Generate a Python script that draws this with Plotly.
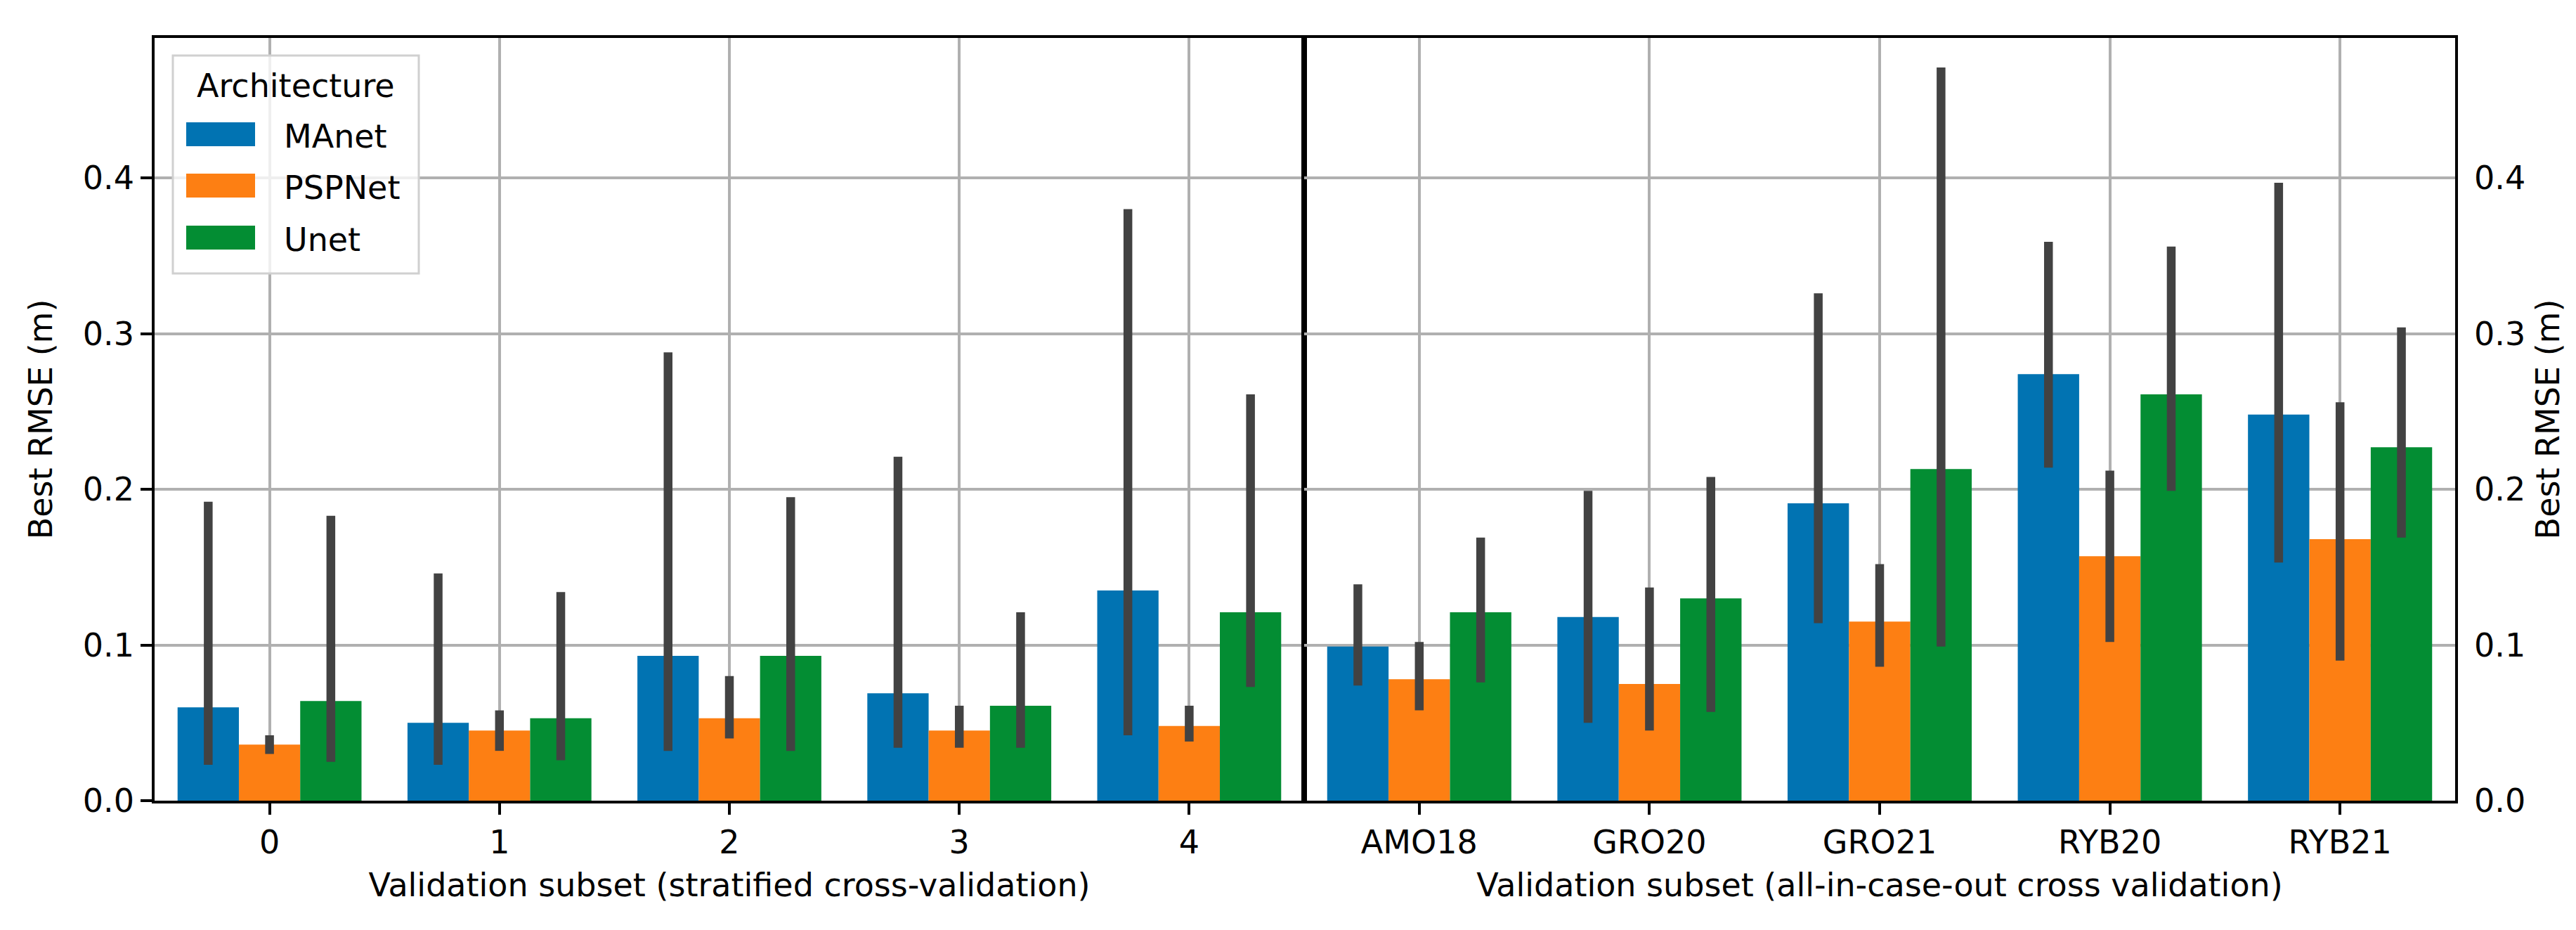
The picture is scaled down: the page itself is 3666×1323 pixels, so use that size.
import plotly.graph_objects as go

# ---------------- data ----------------
archs = ["MAnet", "PSPNet", "Unet"]
colors = ["#0173b2", "#fd7f13", "#038d33"]

strat_cats = ["0", "1", "2", "3", "4"]
case_cats = ["AMO18", "GRO20", "GRO21", "RYB20", "RYB21"]

# mean best RMSE (m)
strat_mean = {
    "MAnet":  [0.060, 0.050, 0.093, 0.069, 0.135],
    "PSPNet": [0.036, 0.045, 0.053, 0.045, 0.048],
    "Unet":   [0.064, 0.053, 0.093, 0.061, 0.121],
}
strat_lo = {
    "MAnet":  [0.023, 0.023, 0.032, 0.034, 0.042],
    "PSPNet": [0.030, 0.032, 0.040, 0.034, 0.038],
    "Unet":   [0.025, 0.026, 0.032, 0.034, 0.073],
}
strat_hi = {
    "MAnet":  [0.192, 0.146, 0.288, 0.221, 0.380],
    "PSPNet": [0.042, 0.058, 0.080, 0.061, 0.061],
    "Unet":   [0.183, 0.134, 0.195, 0.121, 0.261],
}

case_mean = {
    "MAnet":  [0.099, 0.118, 0.191, 0.274, 0.248],
    "PSPNet": [0.078, 0.075, 0.115, 0.157, 0.168],
    "Unet":   [0.121, 0.130, 0.213, 0.261, 0.227],
}
case_lo = {
    "MAnet":  [0.074, 0.050, 0.114, 0.214, 0.153],
    "PSPNet": [0.058, 0.045, 0.086, 0.102, 0.090],
    "Unet":   [0.076, 0.057, 0.099, 0.199, 0.169],
}
case_hi = {
    "MAnet":  [0.139, 0.199, 0.326, 0.359, 0.397],
    "PSPNet": [0.102, 0.137, 0.152, 0.212, 0.256],
    "Unet":   [0.169, 0.208, 0.471, 0.356, 0.304],
}

y_ticks = [0.0, 0.1, 0.2, 0.3, 0.4]
y_title = "Best RMSE (m)"
x_title_left = "Validation subset (stratified cross-validation)"
x_title_right = "Validation subset (all-in-case-out cross validation)"
legend_title = "Architecture"

# ---------------- layout geometry (px) ----------------
W, H = 3666, 1323
px = lambda x: x / W
py = lambda y: 1 - y / H
X0, XM, X1 = 212, 1848, 3486
Y0, Y1 = 46, 1131
FONT = "DejaVu Sans"
FS = 46
ERRC = "#424242"
GRIDC = "#b0b0b0"

fig = go.Figure()

for arch, col in zip(archs, colors):
    m = strat_mean[arch]
    fig.add_trace(go.Bar(
        x=strat_cats, y=m, name=arch, marker=dict(color=col, line=dict(width=0)),
        xaxis="x", yaxis="y", showlegend=False,
        error_y=dict(type="data", symmetric=False,
                     array=[h - v for h, v in zip(strat_hi[arch], m)],
                     arrayminus=[v - l for l, v in zip(strat_lo[arch], m)],
                     color=ERRC, thickness=12.5, width=0),
    ))
for arch, col in zip(archs, colors):
    m = case_mean[arch]
    fig.add_trace(go.Bar(
        x=case_cats, y=m, name=arch, marker=dict(color=col, line=dict(width=0)),
        xaxis="x2", yaxis="y2", showlegend=False,
        error_y=dict(type="data", symmetric=False,
                     array=[h - v for h, v in zip(case_hi[arch], m)],
                     arrayminus=[v - l for l, v in zip(case_lo[arch], m)],
                     color=ERRC, thickness=12.5, width=0),
    ))

common_x = dict(type="category", range=[-0.5, 4.5], showgrid=True, gridcolor=GRIDC,
                gridwidth=3.5, ticks="outside", ticklen=16, tickwidth=3.7,
                tickcolor="black", showline=True, linecolor="black", linewidth=3.7,
                mirror=True, tickfont=dict(family=FONT, size=FS, color="black"),
                title=dict(font=dict(family=FONT, size=FS, color="black"), standoff=20),
                zeroline=False, automargin=False)
common_y = dict(range=[0, 0.49], tickvals=y_ticks, tickformat=".1f", showgrid=True,
                gridcolor=GRIDC, gridwidth=3.5, showline=True, linecolor="black",
                linewidth=3.7, mirror=True, zeroline=False, automargin=False,
                tickfont=dict(family=FONT, size=FS, color="black"),
                domain=[py(Y1), py(Y0)])

fig.update_layout(
    width=W, height=H, margin=dict(l=0, r=0, t=0, b=0),
    paper_bgcolor="white", plot_bgcolor="white",
    barmode="group", bargap=0.2, bargroupgap=0,
    font=dict(family=FONT, size=FS, color="black"),
    xaxis=dict(common_x, domain=[px(X0), px(XM)], anchor="y",
               categoryorder="array", categoryarray=strat_cats,
               title=dict(common_x["title"], text=x_title_left)),
    xaxis2=dict(common_x, domain=[px(XM), px(X1)], anchor="y2",
                categoryorder="array", categoryarray=case_cats,
                title=dict(common_x["title"], text=x_title_right)),
    yaxis=dict(common_y, anchor="x", side="left", ticks="outside", ticklen=16,
               tickwidth=3.7, tickcolor="black",
               title=dict(text=y_title, font=dict(family=FONT, size=FS, color="black"),
                          standoff=30)),
    yaxis2=dict(common_y, anchor="x2", side="right", ticks="",
                ticklabelstandoff=14,
                title=dict(text=y_title, font=dict(family=FONT, size=FS, color="black"),
                           standoff=18)),
)

# ---------------- legend (drawn manually to match wide swatches) ----------------
shapes = [dict(type="rect", xref="paper", yref="paper",
               x0=px(238), x1=px(588), y0=py(381), y1=py(71),
               fillcolor="rgba(255,255,255,0.8)", line=dict(color="#d0d0d0", width=3),
               layer="above")]
annotations = [dict(text=legend_title, xref="paper", yref="paper", x=px(413), y=py(114),
                    xanchor="center", yanchor="middle", showarrow=False,
                    font=dict(family=FONT, size=FS, color="black"))]
item_y = [183, 256, 330]
for arch, col, yc in zip(archs, colors, item_y):
    shapes.append(dict(type="rect", xref="paper", yref="paper",
                       x0=px(257), x1=px(355), y0=py(yc + 17), y1=py(yc - 17),
                       fillcolor=col, line=dict(width=0), layer="above"))
    annotations.append(dict(text=arch, xref="paper", yref="paper", x=px(394), y=py(yc + 3),
                            xanchor="left", yanchor="middle", showarrow=False,
                            font=dict(family=FONT, size=FS, color="black")))
fig.update_layout(shapes=shapes, annotations=annotations)

fig.write_html("out.html")
